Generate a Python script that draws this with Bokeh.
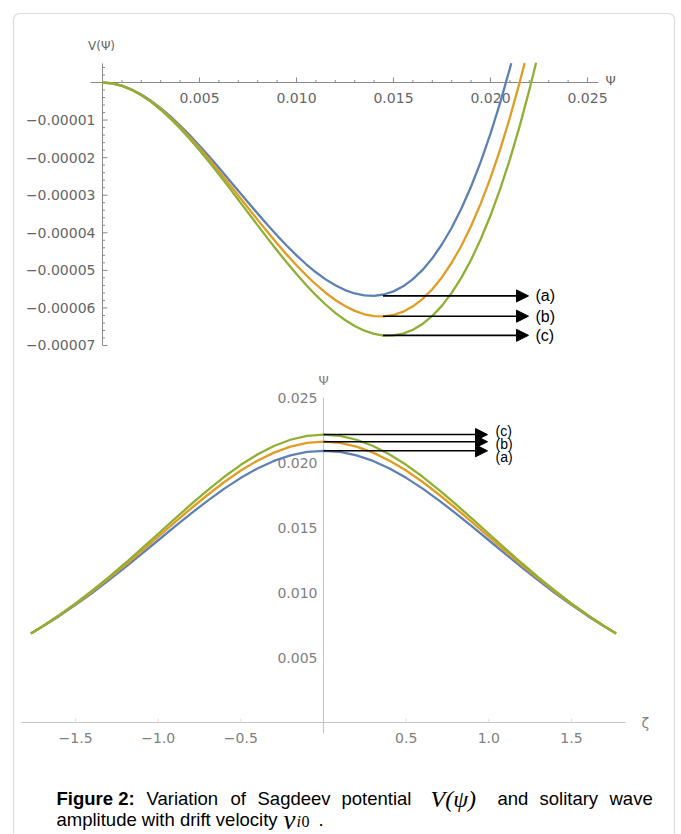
from bokeh.plotting import figure
from bokeh.models import Range1d, Arrow, NormalHead, BoxAnnotation
from bokeh.core.properties import value
from bokeh.embed import file_html
from bokeh.resources import INLINE

# ---------------- data ----------------
psi_grid = [0.0, 0.0005, 0.001, 0.0015, 0.002, 0.0025, 0.003, 0.0035, 0.004, 0.0045,
            0.005, 0.0055, 0.006, 0.0065, 0.007, 0.0075, 0.008, 0.0085, 0.009, 0.0095,
            0.010, 0.0105, 0.011, 0.0115, 0.012, 0.0125, 0.013, 0.0135, 0.014, 0.0145,
            0.015, 0.0155, 0.016, 0.0165, 0.017, 0.0175, 0.018, 0.0185, 0.019, 0.0195,
            0.020, 0.0205, 0.021, 0.0215, 0.022]
# Sagdeev potential V(psi), case (a)
psi_a = psi_grid[:43] + [0.02107]
V_a = [0.0, -0.022e-5, -0.084e-5, -0.185e-5, -0.320e-5, -0.487e-5, -0.683e-5, -0.903e-5,
       -1.145e-5, -1.406e-5, -1.683e-5, -1.972e-5, -2.270e-5, -2.574e-5, -2.881e-5, -3.187e-5,
       -3.490e-5, -3.786e-5, -4.072e-5, -4.345e-5, -4.601e-5, -4.838e-5, -5.052e-5, -5.240e-5,
       -5.399e-5, -5.525e-5, -5.616e-5, -5.668e-5, -5.678e-5, -5.643e-5, -5.560e-5, -5.425e-5,
       -5.235e-5, -4.988e-5, -4.679e-5, -4.306e-5, -3.865e-5, -3.354e-5, -2.768e-5, -2.106e-5,
       -1.363e-5, -0.537e-5, 0.376e-5, 0.511e-5]
# case (b)
psi_b = psi_grid[:44] + [0.02176]
V_b = [0.0, -0.022e-5, -0.087e-5, -0.190e-5, -0.330e-5, -0.502e-5, -0.704e-5, -0.933e-5,
       -1.185e-5, -1.457e-5, -1.745e-5, -2.048e-5, -2.361e-5, -2.681e-5, -3.006e-5, -3.332e-5,
       -3.656e-5, -3.974e-5, -4.284e-5, -4.582e-5, -4.866e-5, -5.131e-5, -5.376e-5, -5.596e-5,
       -5.788e-5, -5.950e-5, -6.078e-5, -6.169e-5, -6.220e-5, -6.227e-5, -6.188e-5, -6.099e-5,
       -5.957e-5, -5.760e-5, -5.502e-5, -5.183e-5, -4.798e-5, -4.344e-5, -3.819e-5, -3.217e-5,
       -2.538e-5, -1.778e-5, -0.932e-5, 0.0, 0.521e-5]
# case (c)
psi_c = psi_grid[:45] + [0.02235]
V_c = [0.0, -0.023e-5, -0.089e-5, -0.195e-5, -0.339e-5, -0.516e-5, -0.725e-5, -0.960e-5,
       -1.221e-5, -1.502e-5, -1.802e-5, -2.117e-5, -2.443e-5, -2.778e-5, -3.119e-5, -3.462e-5,
       -3.804e-5, -4.142e-5, -4.472e-5, -4.793e-5, -5.100e-5, -5.391e-5, -5.661e-5, -5.909e-5,
       -6.130e-5, -6.322e-5, -6.482e-5, -6.606e-5, -6.692e-5, -6.735e-5, -6.733e-5, -6.684e-5,
       -6.582e-5, -6.426e-5, -6.213e-5, -5.938e-5, -5.599e-5, -5.193e-5, -4.717e-5, -4.167e-5,
       -3.541e-5, -2.834e-5, -2.045e-5, -1.169e-5, -0.204e-5, 0.526e-5]
V_min = [-5.68e-5, -6.22e-5, -6.73e-5]        # depth of each potential well (a, b, c)

# Solitary wave profiles psi(zeta)
zeta = [-1.77, -1.7, -1.6, -1.5, -1.4, -1.3, -1.2, -1.1, -1.0, -0.9, -0.8, -0.7, -0.6,
        -0.5, -0.4, -0.3, -0.2, -0.1, 0.0, 0.1, 0.2, 0.3, 0.4, 0.5, 0.6, 0.7, 0.8, 0.9,
        1.0, 1.1, 1.2, 1.3, 1.4, 1.5, 1.6, 1.7, 1.77]
wave_a = [0.00685, 0.00738, 0.00818, 0.00905, 0.00996, 0.01093, 0.01193, 0.01297, 0.01402,
          0.01506, 0.01609, 0.01707, 0.01799, 0.01882, 0.01954, 0.02012, 0.02055, 0.02081,
          0.02090, 0.02081, 0.02055, 0.02012, 0.01954, 0.01882, 0.01799, 0.01707, 0.01609,
          0.01506, 0.01402, 0.01297, 0.01193, 0.01093, 0.00996, 0.00905, 0.00818, 0.00738, 0.00685]
wave_b = [0.00685, 0.00739, 0.00822, 0.00911, 0.01006, 0.01106, 0.01211, 0.01319, 0.01430,
          0.01540, 0.01648, 0.01752, 0.01850, 0.01938, 0.02014, 0.02076, 0.02122, 0.02151,
          0.02160, 0.02151, 0.02122, 0.02076, 0.02014, 0.01938, 0.01850, 0.01752, 0.01648,
          0.01540, 0.01430, 0.01319, 0.01211, 0.01106, 0.01006, 0.00911, 0.00822, 0.00739, 0.00685]
wave_c = [0.00685, 0.00740, 0.00825, 0.00916, 0.01014, 0.01117, 0.01225, 0.01337, 0.01452,
          0.01566, 0.01679, 0.01788, 0.01890, 0.01982, 0.02062, 0.02127, 0.02175, 0.02205,
          0.02215, 0.02205, 0.02175, 0.02127, 0.02062, 0.01982, 0.01890, 0.01788, 0.01679,
          0.01566, 0.01452, 0.01337, 0.01225, 0.01117, 0.01014, 0.00916, 0.00825, 0.00740, 0.00685]
psi_peak = [0.0209, 0.0216, 0.02215]          # amplitudes (a, b, c)

case_labels = ["(a)", "(b)", "(c)"]

# tick values / labels
top_x_ticks = [0.005, 0.010, 0.015, 0.020, 0.025]
top_x_labels = ["0.005", "0.010", "0.015", "0.020", "0.025"]
top_y_ticks = [-0.00001, -0.00002, -0.00003, -0.00004, -0.00005, -0.00006, -0.00007]
top_y_labels = ["\u22120.00001", "\u22120.00002", "\u22120.00003", "\u22120.00004",
                "\u22120.00005", "\u22120.00006", "\u22120.00007"]
bot_x_ticks = [-1.5, -1.0, -0.5, 0.5, 1.0, 1.5]
bot_x_labels = ["\u22121.5", "\u22121.0", "\u22120.5", "0.5", "1.0", "1.5"]
bot_y_ticks = [0.005, 0.010, 0.015, 0.020, 0.025]
bot_y_labels = ["0.005", "0.010", "0.015", "0.020", "0.025"]

BLUE, ORANGE, GREEN = "#5E81B5", "#E19C24", "#8FB032"
COLORS = [BLUE, ORANGE, GREEN]

# ---------------- layout (page pixels) ----------------
FW, FH, OFF = 681, 834, 0
X0, KX = 102.0, 19400.0      # top plot: psi=0 at page x 102
Y0, KY = 82.0, 3.757e6       # top plot: V=0 at page y 82
Z0, KZ = 323.0, 165.3        # bottom plot: zeta=0 at page x 323
P0, KP = 722.0, 13000.0      # bottom plot: psi=0 at page y 722

def tx(px): return (px - X0) / KX
def ty(py): return (Y0 - py) / KY
def bz(px): return (px - Z0) / KZ
def bp(py): return (P0 - py) / KP

p = figure(width=FW, height=FH, output_backend="svg", toolbar_location=None,
           x_range=Range1d(tx(OFF), tx(OFF + FW)), y_range=Range1d(ty(OFF + FH), ty(OFF)),
           min_border=0, x_axis_type=None, y_axis_type=None)
p.extra_x_ranges = {"z": Range1d(bz(OFF), bz(OFF + FW))}
p.extra_y_ranges = {"w": Range1d(bp(OFF + FH), bp(OFF))}
p.outline_line_color = None
p.background_fill_color = "white"
p.border_fill_color = "white"

# frame of the figure panel
p.add_layout(BoxAnnotation(left=tx(13), right=tx(674), top=ty(13), bottom=ty(1000),
                           fill_color=None, line_color="#8c8c8c", line_width=1.2,
                           border_radius=6))

SANS = value("DejaVu Sans")
ZB = dict(x_range_name="z", y_range_name="w")

# ---------------- top plot axes ----------------
AX = "#8a8a8a"
p.segment(x0=[tx(90)], y0=[0], x1=[tx(598)], y1=[0], line_color=AX, line_width=1)
p.segment(x0=[0], y0=[ty(63)], x1=[0], y1=[ty(345)], line_color=AX, line_width=1)
minor_x = [k * 0.001 for k in range(1, 26) if k % 5]
p.segment(x0=minor_x, y0=[0] * len(minor_x), x1=minor_x, y1=[2.5 / KY] * len(minor_x),
          line_color=AX, line_width=1)
p.segment(x0=top_x_ticks, y0=[0] * 5, x1=top_x_ticks, y1=[5 / KY] * 5, line_color=AX, line_width=1)
minor_y = [k * 2e-6 for k in range(-35, 3) if k % 5 and k != 0]
p.segment(x0=[0] * len(minor_y), y0=minor_y, x1=[2.5 / KX] * len(minor_y), y1=minor_y,
          line_color=AX, line_width=1)
p.segment(x0=[0] * 7, y0=top_y_ticks, x1=[5 / KX] * 7, y1=top_y_ticks, line_color=AX, line_width=1)
p.text(x=top_x_ticks, y=[ty(97)] * 5, text=top_x_labels, text_font=SANS, text_font_size="14px",
       text_color="#666666", text_align="center", text_baseline="middle")
p.text(x=[tx(95)] * 7, y=top_y_ticks, text=top_y_labels, text_font=SANS, text_font_size="14px",
       text_color="#666666", text_align="right", text_baseline="middle")
p.text(x=[tx(101)], y=[ty(45)], text=["V(\u03a8)"], text_font=SANS, text_font_size="12px",
       text_color="#666666", text_align="center", text_baseline="middle")
p.text(x=[tx(605)], y=[ty(80)], text=["\u03a8"], text_font=SANS, text_font_size="13px",
       text_color="#666666", text_align="left", text_baseline="middle")

# top curves
for xs, ys, c in zip([psi_a, psi_b, psi_c], [V_a, V_b, V_c], COLORS):
    p.line(xs, ys, line_color=c, line_width=2.3)

# top arrows + labels
for v in V_min:
    p.add_layout(Arrow(end=NormalHead(size=12, fill_color="black", line_color="black"),
                       x_start=0.01446, y_start=v, x_end=tx(528), y_end=v,
                       line_color="black", line_width=1.6))
p.text(x=[tx(535)] * 3, y=V_min, text=case_labels, text_font=value("Liberation Sans"),
       text_font_size="16px", text_color="black", text_align="left", text_baseline="middle")

# ---------------- bottom plot axes ----------------
AX2 = "#c4c4c4"
p.segment(x0=[bz(21)], y0=[0], x1=[bz(625)], y1=[0], line_color=AX2, line_width=1, **ZB)
p.segment(x0=[0], y0=[bp(397)], x1=[0], y1=[bp(733)], line_color=AX2, line_width=1, **ZB)
p.segment(x0=bot_x_ticks, y0=[0] * 6, x1=bot_x_ticks, y1=[4 / KP] * 6, line_color="#dddddd",
          line_width=1, **ZB)
p.text(x=bot_x_ticks, y=[bp(737)] * 6, text=bot_x_labels, text_font=SANS, text_font_size="14px",
       text_color="#808080", text_align="center", text_baseline="middle", **ZB)
p.text(x=[bz(317)] * 5, y=bot_y_ticks, text=bot_y_labels, text_font=SANS, text_font_size="14px",
       text_color="#808080", text_align="right", text_baseline="middle", **ZB)
p.text(x=[0], y=[bp(380)], text=["\u03a8"], text_font=SANS, text_font_size="13px",
       text_color="#808080", text_align="center", text_baseline="middle", **ZB)
p.text(x=[bz(641)], y=[bp(722)], text=["\u03b6"], text_font=SANS, text_font_size="14px",
       text_color="#808080", text_align="left", text_baseline="middle", **ZB)

for ws, c in zip([wave_a, wave_b, wave_c], COLORS):
    p.line(zeta, ws, line_color=c, line_width=2.3, **ZB)

for v in psi_peak:
    p.add_layout(Arrow(end=NormalHead(size=12, fill_color="black", line_color="black"),
                       x_start=0, y_start=v, x_end=bz(487), y_end=v,
                       line_color="black", line_width=1.6, **ZB))
p.text(x=[bz(495)] * 3, y=[bp(456), bp(443), bp(430)], text=case_labels,
       text_font=value("Liberation Sans"), text_font_size="14px", text_color="black",
       text_align="left", text_baseline="middle", **ZB)

# ---------------- caption ----------------
CAP = value("Liberation Sans")
SERIF = value("Liberation Serif")
CS = "18.5px"
L1, L2 = 798, 819
p.text(x=[tx(56)], y=[ty(L1)], text=["Figure 2:"], text_font=CAP, text_font_size=CS,
       text_font_style="bold", text_color="black", text_baseline="alphabetic")
words1 = ["Variation", "of", "Sagdeev", "potential"]
pos1 = [146, 230, 257, 341]
p.text(x=[tx(v) for v in pos1], y=[ty(L1)] * 4, text=words1, text_font=CAP,
       text_font_size=CS, text_color="black", text_baseline="alphabetic")
p.text(x=[tx(430)], y=[ty(L1)], text=["V(\u03c8)"], text_font=SERIF, text_font_size="24px",
       text_font_style="italic", text_color="black", text_baseline="alphabetic")
words1b = ["and", "solitary", "wave"]
pos1b = [497, 539, 609]
p.text(x=[tx(v) for v in pos1b], y=[ty(L1)] * 3, text=words1b, text_font=CAP,
       text_font_size=CS, text_color="black", text_baseline="alphabetic")
p.text(x=[tx(56)], y=[ty(L2)], text=["amplitude with drift velocity"], text_font=CAP,
       text_font_size=CS, text_color="black", text_baseline="alphabetic")
p.text(x=[tx(283)], y=[ty(L2)], text=["v"], text_font=SERIF, text_font_size="27px",
       text_font_style="italic", text_color="black", text_baseline="alphabetic")
p.text(x=[tx(296)], y=[ty(L2 + 2)], text=["i"], text_font=SERIF, text_font_size="16px",
       text_font_style="italic", text_color="black", text_baseline="alphabetic")
p.text(x=[tx(301)], y=[ty(L2 + 2)], text=["0"], text_font=SERIF, text_font_size="16px",
       text_color="black", text_baseline="alphabetic")
p.text(x=[tx(318)], y=[ty(L2)], text=["."], text_font=CAP, text_font_size=CS,
       text_color="black", text_baseline="alphabetic")

open("out.html", "w").write(file_html(p, INLINE))
